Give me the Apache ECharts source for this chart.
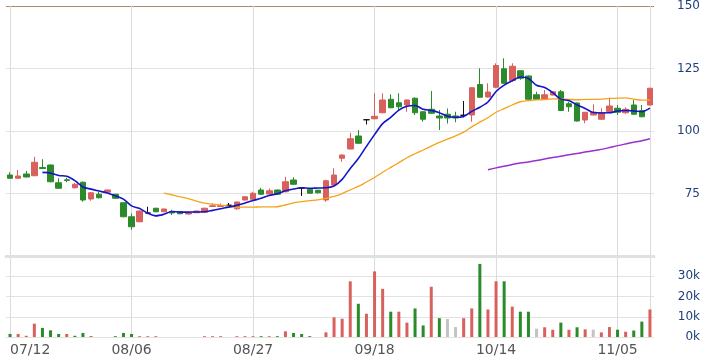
<!DOCTYPE html>
<html><head><meta charset="utf-8">
<script src="https://cdn.jsdelivr.net/npm/echarts@6/dist/echarts.min.js"></script>
<style>html,body{margin:0;padding:0;background:#fff}#c{width:707px;height:358px}</style>
</head><body><div id="c"></div>
<script>
const dates = ['07/12',
 '07/15','07/16','07/17','07/18','07/19','07/22','07/23','07/26','07/29','07/30','07/31','08/01','08/02','08/05','08/06',
 '08/07','08/08','08/09','08/12','08/13','08/14','08/15','08/16','08/19','08/20','08/21','08/22','08/23','08/26','08/27',
 '08/28','08/29','08/30','09/02','09/03','09/04','09/05','09/06','09/09','09/10','09/11','09/12','09/13','09/16','09/18',
 '09/19','09/20','09/23','09/24','09/25','09/26','09/27','09/30','10/01','10/04','10/07','10/08','10/09','10/11','10/14',
 '10/15','10/16','10/17','10/18','10/21','10/22','10/23','10/24','10/25','10/28','10/29','10/30','11/01','11/04','11/05',
 '11/06','11/07','11/08','11/11'];
const openP = [82.4,81.1,82.8,82.1,85.4,86.4,79.3,80.5,77.3,79.5,
 72.8,74.7,75.5,74.7,71.3,65.7,63.7,67.2,69.1,67.7,
 67.8,67.7,66.8,67.3,67.5,69.8,69.8,70.3,68.9,72.4,
 72.7,76.4,74.8,76.4,75.7,80.4,77.2,76.7,76.3,72.4,
 78.4,89.1,92.8,98.0,104.5,104.9,107.3,112.7,111.3,110.4,
 113.1,107.7,108.7,106.0,106.7,106.0,106.3,106.4,118.6,113.6,
 117.5,124.9,120.2,124.1,122.0,114.5,112.7,114.4,115.7,110.9,
 111.2,104.4,106.4,104.7,107.8,109.1,107.3,110.4,108.2,110.4];
const closeP = [81.1,82.0,81.6,87.5,85.0,79.7,77.1,80.2,78.7,72.4,
 75.3,73.3,76.4,73.1,65.7,61.7,68.0,67.2,67.7,68.8,
 67.2,66.9,67.2,68.0,69.1,70.1,70.2,70.3,71.6,73.7,
 75.1,74.7,76.1,74.7,79.7,78.7,77.2,75.1,75.3,80.1,
 82.4,90.4,96.9,95.1,104.5,105.9,112.4,109.3,109.7,112.4,
 107.3,104.7,107.1,105.2,105.2,105.2,106.3,117.3,113.5,115.6,
 126.2,119.1,125.9,121.1,112.7,112.7,114.5,115.7,108.2,109.7,
 104.0,107.5,107.5,107.4,110.0,107.5,108.7,106.7,105.7,117.1];
const lowP = [81.0,81.0,81.5,82.0,85.0,79.5,77.0,79.5,77.0,71.7,
 72.1,73.0,75.3,72.8,65.5,60.5,63.5,67.2,67.5,67.6,
 66.4,66.7,66.5,67.2,67.4,69.7,69.7,69.6,68.5,72.2,
 72.5,74.5,74.6,74.5,75.5,78.5,74.0,74.9,75.0,71.7,
 78.2,87.7,92.6,94.9,102.6,104.7,107.1,109.1,108.4,107.7,
 106.4,103.7,106.9,100.4,103.0,103.5,105.4,103.7,113.3,113.4,
 117.1,118.9,119.7,120.5,112.5,112.5,112.5,114.2,108.0,107.7,
 103.8,103.1,106.2,104.5,107.5,106.4,106.8,106.4,105.5,110.2];
const highP = [83.5,84.4,84.0,89.7,88.7,86.6,81.1,81.3,79.2,79.8,
 75.5,75.7,76.6,74.9,71.5,67.0,68.2,69.7,69.3,69.0,
 68.5,67.9,67.4,68.2,69.3,71.1,71.0,71.2,71.8,74.0,
 75.7,77.3,77.0,76.6,81.7,81.5,77.4,76.9,76.5,80.5,
 85.1,90.6,99.3,100.4,104.7,115.1,115.1,114.7,115.1,112.6,
 113.5,107.9,116.0,108.4,109.0,107.7,112.0,117.5,125.1,119.1,
 127.1,129.1,127.1,124.3,122.2,115.7,116.4,115.9,116.4,111.7,
 111.4,107.6,110.7,109.1,113.3,110.4,109.5,112.4,110.4,117.3];
const volume = [1500,1500,600,6600,4500,3300,1500,1500,600,2000,
 500,0,0,400,2000,1500,400,400,400,0,
 0,0,0,0,400,400,400,0,400,400,
 400,400,400,400,2800,2000,1500,400,0,2300,
 9700,9000,27500,16400,11500,32400,23800,12500,12500,7100,
 14100,5700,24800,9300,8900,4900,9300,14100,36100,13600,
 27500,27500,15000,12500,12500,4100,4800,3600,7100,3600,
 4800,3800,3600,2300,4900,3600,2600,3200,7600,13600];
// price change vs previous close: 1 up, -1 down, 0 unchanged
const volDir = [-1,1,1,1,-1,-1,-1,1,-1,-1,
 1,-1,1,-1,-1,-1,1,1,1,1,
 -1,-1,1,1,1,1,1,1,1,1,
 1,-1,1,-1,1,-1,-1,-1,1,1,
 1,1,1,-1,1,1,1,-1,1,1,
 -1,-1,1,-1,0,0,1,1,-1,1,
 1,-1,1,-1,-1,0,1,1,-1,1,
 -1,1,0,1,1,-1,1,-1,-1,1];
const ma5 = [null,null,null,null,
 83.44,83.16,82.18,81.90,80.14,77.62,76.74,75.98,75.22,74.10,72.76,70.04,68.98,67.14,66.06,66.68,
 67.78,67.56,67.56,67.62,67.68,68.26,68.92,69.54,70.26,71.18,72.18,73.08,74.24,74.86,76.06,76.78,
 77.28,77.08,77.20,77.28,78.02,80.66,85.02,88.98,93.86,98.56,102.96,105.44,108.36,109.94,110.22,
 108.68,108.24,107.34,105.90,105.48,105.80,107.84,109.50,111.58,115.78,118.34,120.06,121.58,121.00,
 118.30,117.38,115.34,112.76,112.16,110.42,109.02,107.38,107.22,107.28,107.98,108.22,108.06,107.72,109.14];
const ma20 = [null,null,null,null,null,null,null,null,null,null,
 null,null,null,null,null,null,null,null,null,
 75.13,74.43,73.68,72.96,71.98,71.19,70.71,70.36,69.87,69.51,69.58,69.57,69.64,69.62,69.70,70.40,
 71.25,71.71,72.11,72.49,73.05,73.81,74.99,76.47,77.83,79.60,81.39,83.50,85.45,87.35,89.29,90.90,
 92.40,93.95,95.47,96.75,98.07,99.53,101.64,103.55,105.32,107.51,108.95,110.40,111.70,112.11,112.45,
 112.55,112.87,112.80,112.66,112.50,112.64,112.66,112.77,113.01,113.12,113.24,112.71,112.32,112.40];
const ma60Start = 59;
const ma60Vals = [84.50,85.25,85.87,86.61,87.17,87.63,88.18,88.80,89.39,89.89,90.51,90.99,91.56,92.07,
 92.65,93.38,94.15,94.83,95.48,96.12,96.92];
const labelIndex = [0, 15, 30, 45, 60, 75];

const ma60 = dates.map((d, i) => i >= ma60Start ? ma60Vals[i - ma60Start] : null);
const candles = dates.map((d, i) => [openP[i], closeP[i], lowP[i], highP[i]]);
const isLabel = (i) => labelIndex.indexOf(i) >= 0;

const UP = '#d8615d', DOWN = '#2b8b2b', FLAT = '#c3c3c3';
const FONT = 'DejaVu Sans';
const GRID = '#e2e2e2';
const VGRID = '#dcdcdc';
const chart = echarts.init(document.getElementById('c'), null, {renderer: 'canvas'});
const W = 707, L = 6, R = 53;
const band = (W - L - R) / dates.length;
// overlay grids shifted by half a band so that band boundaries fall on candle centres
const gridDates = dates.slice(0, dates.length - 1);
const vGridAxis = (g) => ({
  type: 'category', gridIndex: g, data: gridDates, boundaryGap: true,
  axisLine: {show: false}, axisTick: {show: false}, axisLabel: {show: false},
  splitLine: {show: true, interval: 14, lineStyle: {color: VGRID, width: 1}}
});
chart.setOption({
  animation: false,
  grid: [
    {left: L, right: R, top: 6, height: 250},
    {left: L, right: R, top: 256, height: 81},
    {left: L + band / 2, right: R + band / 2, top: 6, height: 250},
    {left: L + band / 2, right: R + band / 2, top: 256, height: 81}
  ],
  xAxis: [
    {type: 'category', gridIndex: 0, data: dates, boundaryGap: true,
     axisLine: {show: true, lineStyle: {color: '#e0e0e0', width: 3}},
     axisTick: {show: false}, axisLabel: {show: false}, splitLine: {show: false}},
    {type: 'category', gridIndex: 1, data: dates, boundaryGap: true,
     axisLine: {show: false}, axisTick: {show: false},
     axisLabel: {interval: (i) => isLabel(i), color: '#555', fontFamily: FONT, fontSize: 14, margin: 6, alignMinLabel: 'left'},
     splitLine: {show: false}},
    vGridAxis(2),
    vGridAxis(3)
  ],
  yAxis: [
    {type: 'value', gridIndex: 0, position: 'right', min: 50, max: 150, interval: 25,
     axisLine: {show: false}, axisTick: {show: false},
     axisLabel: {showMinLabel: false, align: 'right', margin: 46, color: '#1f3f7a', fontFamily: FONT, fontSize: 12},
     splitLine: {show: true, lineStyle: {color: [GRID, GRID, GRID, GRID, '#a88c66'], width: 1}}},
    {type: 'value', gridIndex: 1, position: 'right', min: 0, max: 40000, interval: 10000,
     axisLine: {show: false}, axisTick: {show: false},
     axisLabel: {showMaxLabel: false, align: 'right', margin: 46, color: '#1f3f7a', fontFamily: FONT, fontSize: 12,
       formatter: v => (v / 1000) + 'k'},
     splitLine: {show: true, lineStyle: {color: GRID, width: 1}}},
    {type: 'value', gridIndex: 2, min: 0, max: 1, show: false},
    {type: 'value', gridIndex: 3, min: 0, max: 1, show: false}
  ],
  series: [
    {type: 'candlestick', xAxisIndex: 0, yAxisIndex: 0, data: candles, barWidth: 6, z: 10,
     itemStyle: {color: UP, color0: DOWN, borderColor: UP, borderColor0: DOWN, borderColorDoji: '#111', borderWidth: 1}},
    {type: 'line', xAxisIndex: 0, yAxisIndex: 0, data: ma20, showSymbol: false, smooth: 0.3,
     lineStyle: {color: '#f5a31a', width: 1.3}, z: 11},
    {type: 'line', xAxisIndex: 0, yAxisIndex: 0, data: ma60, showSymbol: false, smooth: 0.3,
     lineStyle: {color: '#9a2fd0', width: 1.5}, z: 11},
    {type: 'line', xAxisIndex: 0, yAxisIndex: 0, data: ma5, showSymbol: false, smooth: 0.3,
     lineStyle: {color: '#1414c8', width: 1.6}, z: 12},
    {type: 'bar', xAxisIndex: 1, yAxisIndex: 1, barWidth: 3, z: 10,
     data: volume.map((v, i) => ({value: v, itemStyle: {color: volDir[i] > 0 ? UP : (volDir[i] < 0 ? DOWN : FLAT)}}))}
  ]
});
</script>
</body></html>
